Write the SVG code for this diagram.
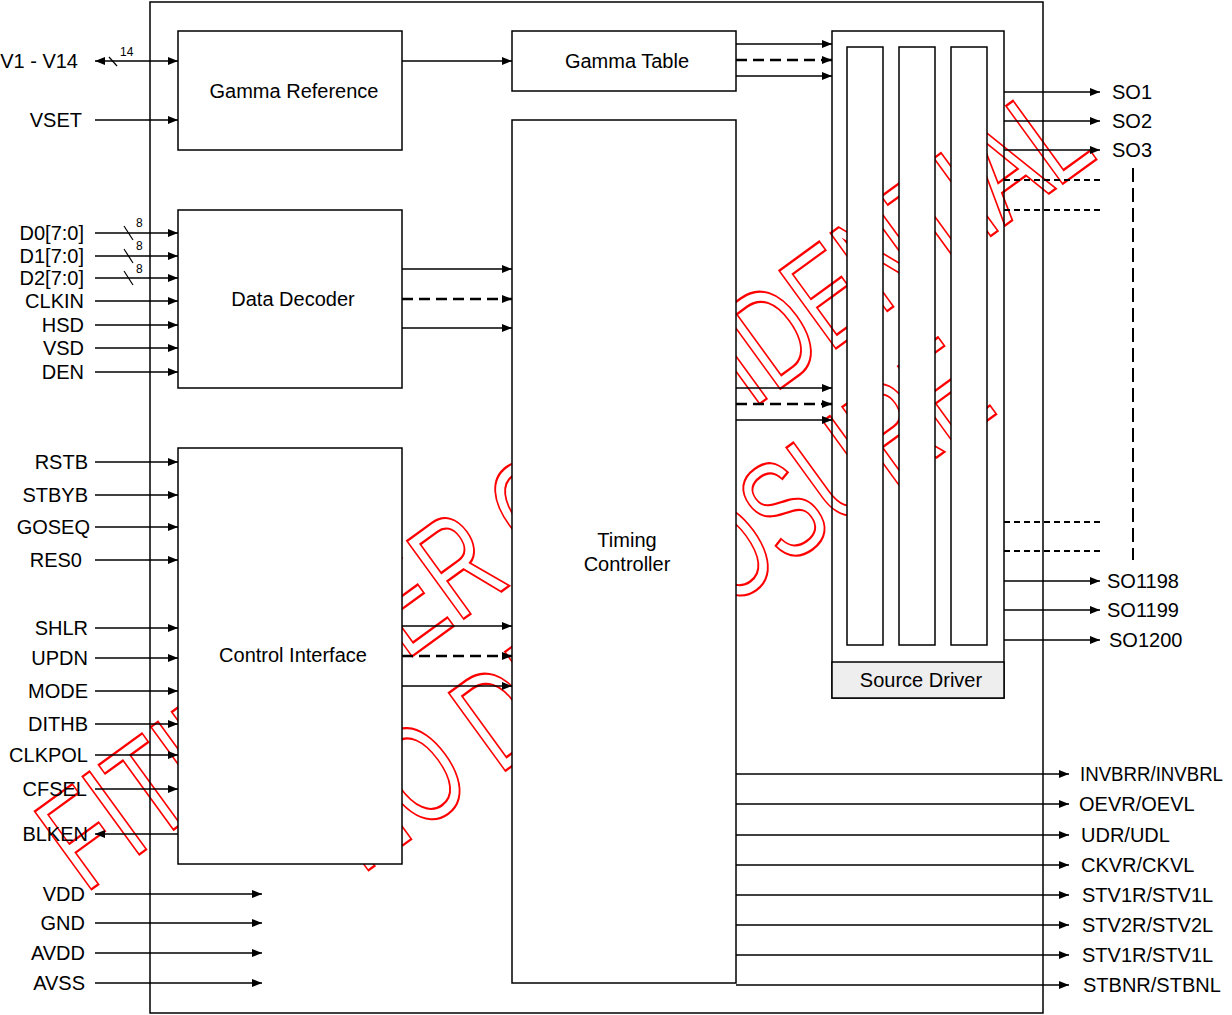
<svg xmlns="http://www.w3.org/2000/svg" width="1232" height="1015" viewBox="0 0 1232 1015">
<defs>
<marker id="ah" viewBox="0 0 10 8" refX="10" refY="4" markerWidth="10" markerHeight="8" markerUnits="userSpaceOnUse" orient="auto-start-reverse"><path d="M0,0 L10,4 L0,8 z" fill="#000"/></marker>
<style>
.t{font-family:"Liberation Sans",Arial,Helvetica,sans-serif;font-size:20px;fill:#000}
.s{font-family:"Liberation Sans",Arial,Helvetica,sans-serif;font-size:12px;fill:#000}
.box{fill:#fff;stroke:#000;stroke-width:1.5}
.ln{stroke:#000;stroke-width:1.5;fill:none;marker-end:url(#ah)}
.dl{stroke:#000;stroke-width:2.5;fill:none;stroke-dasharray:11 6;marker-end:url(#ah)}
.sd{stroke:#000;stroke-width:2;fill:none;stroke-dasharray:6 4}
.wm{font-family:"Liberation Sans",Arial,sans-serif;font-size:140px;fill:none;stroke:#f00;stroke-width:2}
</style>
</defs>
<rect x="0" y="0" width="1232" height="1015" fill="#fff"/>
<g id="watermark">
<text class="wm" transform="translate(85,894) rotate(-36) scale(0.68,1)"><tspan vector-effect="non-scaling-stroke">FITIPOWER CONFIDENTIAL</tspan></text>
<text class="wm" transform="translate(362,875) rotate(-36) scale(0.68,1)"><tspan vector-effect="non-scaling-stroke">NO DISCLOSURE</tspan></text>
</g>
<rect id="chip" x="150" y="2" width="893" height="1011" fill="none" stroke="#000" stroke-width="1.5"/>
<g id="gamma-reference"><rect class="box" x="178" y="31" width="224" height="119"/><text class="t" x="294" y="98" text-anchor="middle">Gamma Reference</text></g>
<g id="data-decoder"><rect class="box" x="178" y="210" width="224" height="178"/><text class="t" x="293" y="306" text-anchor="middle">Data Decoder</text></g>
<g id="control-interface"><rect class="box" x="178" y="448" width="224" height="416"/><text class="t" x="293" y="662" text-anchor="middle">Control Interface</text></g>
<g id="gamma-table"><rect class="box" x="512" y="31" width="224" height="60"/><text class="t" x="627" y="68" text-anchor="middle">Gamma Table</text></g>
<g id="timing-controller"><rect class="box" x="512" y="120" width="224" height="863"/><text class="t" x="627" y="547" text-anchor="middle">Timing</text><text class="t" x="627" y="571" text-anchor="middle">Controller</text></g>
<g id="source-driver">
<rect x="832" y="31" width="172" height="667" fill="none" stroke="#000" stroke-width="1.5"/>
<rect x="832" y="662" width="172" height="36" fill="#eeeeee" stroke="#000" stroke-width="1.5"/>
<rect class="box" x="847" y="47" width="36" height="598"/>
<rect class="box" x="899" y="47" width="36" height="598"/>
<rect class="box" x="951" y="47" width="36" height="598"/>
<text class="t" x="921" y="687" text-anchor="middle">Source Driver</text>
</g>
<g id="connectors">
<line class="ln" x1="95" y1="61" x2="178" y2="61" style="marker-start:url(#ah)"/>
<line x1="109" y1="57" x2="117" y2="66" stroke="#000" stroke-width="1.2"/>
<line class="ln" x1="95" y1="120" x2="178" y2="120"/>
<line class="ln" x1="95" y1="233" x2="178" y2="233"/>
<line class="ln" x1="95" y1="256" x2="178" y2="256"/>
<line class="ln" x1="95" y1="278" x2="178" y2="278"/>
<line x1="124" y1="226" x2="133" y2="240" stroke="#000" stroke-width="1.2"/>
<line x1="124" y1="249" x2="133" y2="263" stroke="#000" stroke-width="1.2"/>
<line x1="124" y1="271" x2="133" y2="285" stroke="#000" stroke-width="1.2"/>
<line class="ln" x1="95" y1="301" x2="178" y2="301"/>
<line class="ln" x1="95" y1="325" x2="178" y2="325"/>
<line class="ln" x1="95" y1="348" x2="178" y2="348"/>
<line class="ln" x1="95" y1="372" x2="178" y2="372"/>
<line class="ln" x1="95" y1="462" x2="178" y2="462"/>
<line class="ln" x1="95" y1="495" x2="178" y2="495"/>
<line class="ln" x1="95" y1="527" x2="178" y2="527"/>
<line class="ln" x1="95" y1="560" x2="178" y2="560"/>
<line class="ln" x1="95" y1="628" x2="178" y2="628"/>
<line class="ln" x1="95" y1="658" x2="178" y2="658"/>
<line class="ln" x1="95" y1="691" x2="178" y2="691"/>
<line class="ln" x1="95" y1="724" x2="178" y2="724"/>
<line class="ln" x1="95" y1="755" x2="178" y2="755"/>
<line class="ln" x1="95" y1="789" x2="178" y2="789"/>
<line class="ln" x1="178" y1="834" x2="95" y2="834"/>
<line class="ln" x1="95" y1="894" x2="262" y2="894"/>
<line class="ln" x1="95" y1="923" x2="262" y2="923"/>
<line class="ln" x1="95" y1="953" x2="262" y2="953"/>
<line class="ln" x1="95" y1="983" x2="262" y2="983"/>
<line class="ln" x1="402" y1="61" x2="512" y2="61"/>
<line class="ln" x1="402" y1="269" x2="512" y2="269"/>
<line class="dl" x1="402" y1="299" x2="512" y2="299"/>
<line class="ln" x1="402" y1="328" x2="512" y2="328"/>
<line class="ln" x1="402" y1="626" x2="512" y2="626"/>
<line class="dl" x1="402" y1="656" x2="512" y2="656"/>
<line class="ln" x1="402" y1="686" x2="512" y2="686"/>
<line class="ln" x1="736" y1="44" x2="832" y2="44"/>
<line class="dl" x1="736" y1="60" x2="832" y2="60"/>
<line class="ln" x1="736" y1="76" x2="832" y2="76"/>
<line class="ln" x1="736" y1="388" x2="832" y2="388"/>
<line class="dl" x1="736" y1="404" x2="832" y2="404"/>
<line class="ln" x1="736" y1="420" x2="832" y2="420"/>
<line class="ln" x1="1004" y1="92" x2="1100" y2="92"/>
<line class="ln" x1="1004" y1="121" x2="1100" y2="121"/>
<line class="ln" x1="1004" y1="150" x2="1100" y2="150"/>
<line class="sd" x1="1004" y1="180" x2="1103" y2="180"/>
<line class="sd" x1="1004" y1="210" x2="1103" y2="210"/>
<line class="sd" x1="1004" y1="522" x2="1103" y2="522"/>
<line class="sd" x1="1004" y1="551" x2="1103" y2="551"/>
<line x1="1133" y1="168" x2="1133" y2="560" stroke="#000" stroke-width="2" stroke-dasharray="14 6"/>
<line class="ln" x1="1004" y1="581" x2="1100" y2="581"/>
<line class="ln" x1="1004" y1="610" x2="1100" y2="610"/>
<line class="ln" x1="1004" y1="640" x2="1100" y2="640"/>
<line class="ln" x1="736" y1="774" x2="1069" y2="774"/>
<line class="ln" x1="736" y1="804" x2="1069" y2="804"/>
<line class="ln" x1="736" y1="835" x2="1069" y2="835"/>
<line class="ln" x1="736" y1="865" x2="1069" y2="865"/>
<line class="ln" x1="736" y1="895" x2="1069" y2="895"/>
<line class="ln" x1="736" y1="925" x2="1069" y2="925"/>
<line class="ln" x1="736" y1="955" x2="1069" y2="955"/>
<line class="ln" x1="736" y1="985" x2="1069" y2="985"/>
</g>
<g id="labels">
<text class="s" x="120" y="56">14</text>
<text class="s" x="136" y="227">8</text>
<text class="s" x="136" y="250">8</text>
<text class="s" x="136" y="273">8</text>
<g text-anchor="end">
<text class="t" x="78" y="68">V1 - V14</text>
<text class="t" x="82" y="127">VSET</text>
<text class="t" x="84" y="240">D0[7:0]</text>
<text class="t" x="84" y="263">D1[7:0]</text>
<text class="t" x="84" y="285">D2[7:0]</text>
<text class="t" x="84" y="308">CLKIN</text>
<text class="t" x="84" y="332">HSD</text>
<text class="t" x="84" y="355">VSD</text>
<text class="t" x="84" y="379">DEN</text>
<text class="t" x="88" y="469">RSTB</text>
<text class="t" x="88" y="502">STBYB</text>
<text class="t" x="90" y="534">GOSEQ</text>
<text class="t" x="82" y="567">RES0</text>
<text class="t" x="88" y="635">SHLR</text>
<text class="t" x="88" y="665">UPDN</text>
<text class="t" x="88" y="698">MODE</text>
<text class="t" x="88" y="731">DITHB</text>
<text class="t" x="88" y="762">CLKPOL</text>
<text class="t" x="87" y="796">CFSEL</text>
<text class="t" x="88" y="841">BLKEN</text>
<text class="t" x="85" y="901">VDD</text>
<text class="t" x="85" y="930">GND</text>
<text class="t" x="85" y="960">AVDD</text>
<text class="t" x="85" y="990">AVSS</text>
</g>
<text class="t" x="1112" y="99">SO1</text>
<text class="t" x="1112" y="128">SO2</text>
<text class="t" x="1112" y="157">SO3</text>
<text class="t" x="1107" y="588">SO1198</text>
<text class="t" x="1107" y="617">SO1199</text>
<text class="t" x="1109" y="647">SO1200</text>
<text class="t" x="1080" y="781" textLength="143" lengthAdjust="spacingAndGlyphs">INVBRR/INVBRL</text>
<text class="t" x="1079" y="811">OEVR/OEVL</text>
<text class="t" x="1081" y="842">UDR/UDL</text>
<text class="t" x="1081" y="872">CKVR/CKVL</text>
<text class="t" x="1082" y="902">STV1R/STV1L</text>
<text class="t" x="1082" y="932">STV2R/STV2L</text>
<text class="t" x="1082" y="962">STV1R/STV1L</text>
<text class="t" x="1083" y="992">STBNR/STBNL</text>
</g>
</svg>
